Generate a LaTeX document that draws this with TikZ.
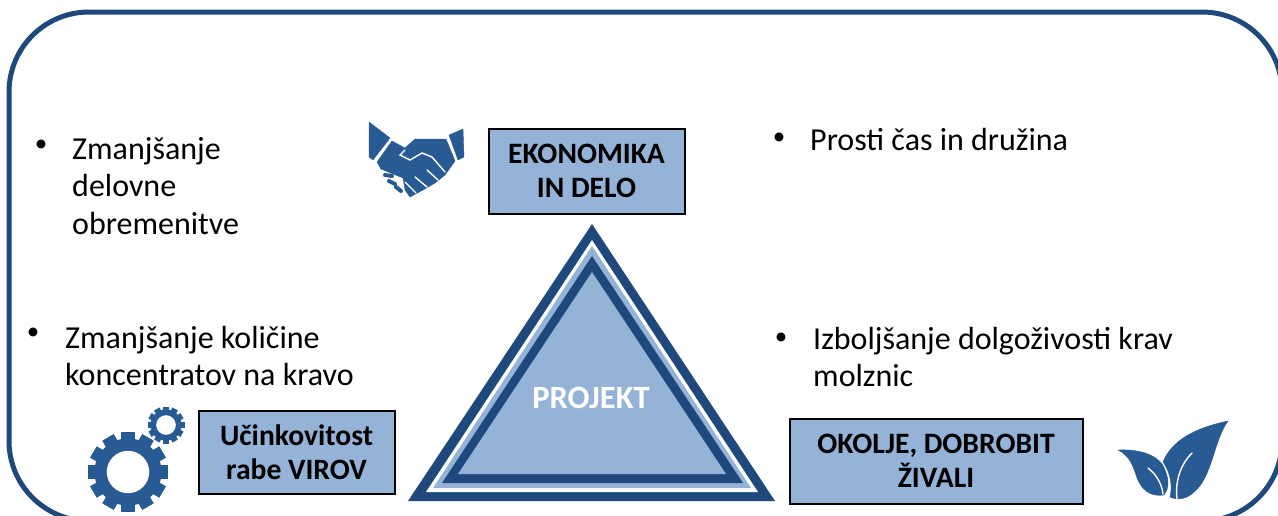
\documentclass[tikz,border=0pt]{standalone}
\usepackage{fontspec}
\setmainfont{Carlito}
\usepackage{xcolor}
\definecolor{framecol}{HTML}{1F497D}
\definecolor{iconcol}{HTML}{285A94}
\definecolor{boxcol}{HTML}{95B3D7}
\tikzset{
    bodytext/.style={anchor=west, inner sep=0pt, align=left, font=\fontsize{32}{37.5}\selectfont},
    dotmark/.style={inner sep=0pt, font=\fontsize{25}{30}\selectfont},
    pillar/.style={draw=black, line width=2pt, fill=boxcol, align=center, inner sep=0pt, text depth=0pt, font=\fontsize{29.6}{33.5}\selectfont\bfseries},
    iconfill/.style={fill=iconcol, draw=iconcol, line join=round},
    iconline/.style={draw=white, line width=1.4pt, line cap=round},
    fingerbar/.style={draw=iconcol, line width=4pt, line cap=round},
}
\newcommand{\gearicon}[2]{%
    \foreach \a in {0,30,...,330} {
        \draw [iconcol, line width={#2*0.33pt}] (#1) ++(\a:#2*0.6) -- ++(\a:#2*0.4);
    }
    \fill [iconcol] (#1) circle (#2*0.84);
    \fill [white] (#1) circle (#2*0.53);
}
\begin{document}
\begin{tikzpicture}[x=1pt, y=-1pt]
    \useasboundingbox (0,0) rectangle (1278,515);
    \fill [white] (0,0) rectangle (1278,515);
    \draw [framecol, line width=5pt, rounded corners=80pt] (9,12) rectangle (1282,521);

    \fill [framecol] (592,224) -- (775,501) -- (408,501) -- cycle;
    \fill [white] (592,240) -- (758,492) -- (426,492) -- cycle;
    \fill [boxcol] (592,246) -- (751,488) -- (433,488) -- cycle;
    \fill [framecol] (592,256) -- (743,483) -- (442,483) -- cycle;
    \fill [boxcol] (592,272) -- (726,474) -- (458,474) -- cycle;
    \node [inner sep=0pt, text=white, font=\fontsize{32.5}{34}\selectfont\bfseries] (projekt) at (591,398) {PROJEKT};

    \node [pillar, minimum width=196pt, minimum height=85pt] (ekonomika) at (586.5,171) {EKONOMIKA\\IN DELO};
    \node [pillar, minimum width=196pt, minimum height=83pt] (viri) at (296.5,452) {Učinkovitost\\rabe VIROV};
    \node [pillar, minimum width=293pt, minimum height=85pt] (okolje) at (936,461) {OKOLJE, DOBROBIT\\ŽIVALI};

    \node [dotmark] (dot1) at (41,146) {•};
    \node [bodytext] (delo) at (72,186) {Zmanjšanje\\delovne\\obremenitve};
    \node [dotmark] (dot2) at (779,139) {•};
    \node [bodytext] (cas) at (810,140) {Prosti čas in družina};
    \node [dotmark] (dot3) at (33,334) {•};
    \node [bodytext] (krma) at (65,356) {Zmanjšanje količine\\koncentratov na kravo};
    \node [dotmark] (dot4) at (781,339) {•};
    \node [bodytext] (krave) at (813,357) {Izboljšanje dolgoživosti krav\\molznic};

    \fill [iconfill] (369,122) -- (390,138) -- (373,160) -- (369,157) -- cycle;
    \fill [iconfill] (463,129) -- (449,135) -- (458,160) -- (464,157) -- cycle;
    \fill [iconfill] (377,162) -- (392,141) -- (405,148) -- (415,139) -- (446,139) -- (455,161) -- (445,175) -- (435,183) -- (423,190) -- (410,197) -- (405,190) -- (403,178) -- (381,169) -- cycle;
    \draw [iconline] (405,150) -- (400,155) -- (410,160) -- (422,153) -- (432,157) -- (445,172);
    \draw [iconline] (427,170) -- (438,180);
    \draw [iconline] (415,177) -- (427,187);
    \draw [iconline] (405,182) -- (416,193);
    \draw [fingerbar] (385,175) -- (392,176);
    \draw [fingerbar] (389,181) -- (395,184);
    \draw [fingerbar] (396,187) -- (401,191);

    \gearicon{166,425}{18.5}
    \gearicon{128,472}{40}

    \fill [iconfill] (1228,421) .. controls (1195,428) and (1172,440) .. (1163,462) .. controls (1172,475) and (1172,488) .. (1170,497) .. controls (1176,500) and (1186,500) .. (1194,492) .. controls (1212,478) and (1214,440) .. (1228,421) -- cycle;
    \fill [iconfill] (1118,450) .. controls (1140,449) and (1160,455) .. (1165,470) .. controls (1170,482) and (1168,490) .. (1164,495) .. controls (1150,497) and (1142,490) .. (1137,478) .. controls (1132,462) and (1128,455) .. (1118,450) -- cycle;
    \draw [iconline] (1148,468) .. controls (1156,474) and (1162,484) .. (1163,494);
    \draw [iconline] (1192,453) .. controls (1180,465) and (1175,482) .. (1177,499);
\end{tikzpicture}
\end{document}
